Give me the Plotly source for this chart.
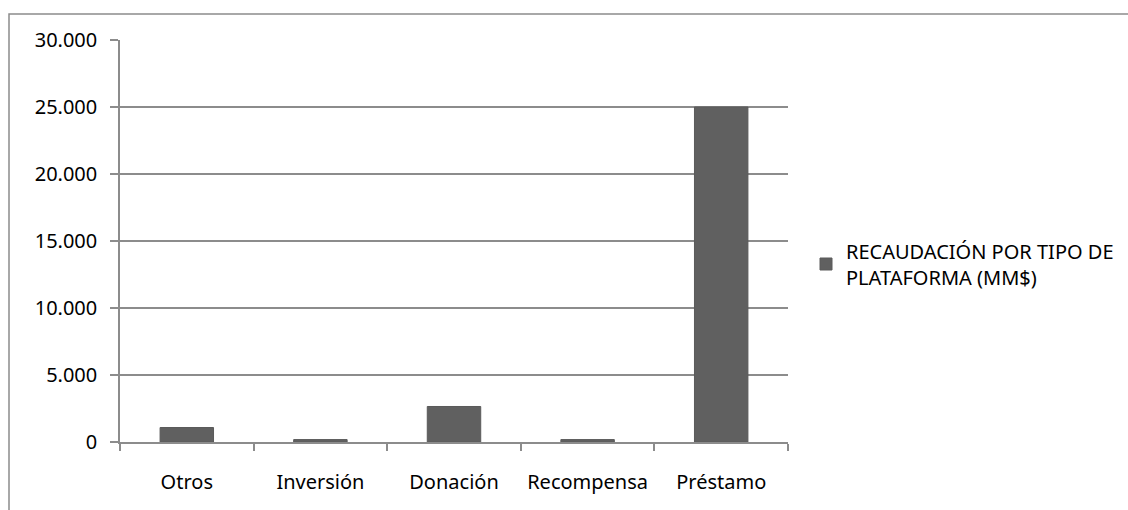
import plotly.graph_objects as go

categories = ["Otros", "Inversión", "Donación", "Recompensa", "Préstamo"]
values = [1080, 180, 2650, 180, 25000]
series_name = "RECAUDACIÓN POR TIPO DE<br>PLATAFORMA (MM$)"
y_ticks = [0, 5000, 10000, 15000, 20000, 25000, 30000]

W, H = 1128, 510
ml, mr, mt, mb = 120, 340, 40, 68
pw, ph = W - ml - mr, H - mt - mb

fig = go.Figure()
fig.add_trace(go.Bar(
    x=categories, y=values, name=series_name,
    marker=dict(color="#606060", line=dict(color="#5a5a5a", width=1)),
    showlegend=True,
))

FONT = "Noto Sans, Open Sans, sans-serif"
font = dict(family=FONT, size=20, color="#000000")

fig.update_layout(
    width=W, height=H,
    margin=dict(l=ml, r=mr, t=mt, b=mb, autoexpand=False),
    paper_bgcolor="white", plot_bgcolor="white",
    separators=",.",
    font=font,
    bargap=0.6,
    showlegend=True,
    legend=dict(
        x=(806 - ml) / pw, y=(442 - 264) / ph, xanchor="left", yanchor="middle",
        font=dict(family=FONT, size=20, color="#000000"),
        itemwidth=30, bgcolor="rgba(0,0,0,0)",
    ),
    xaxis=dict(
        type="category", tickson="boundaries",
        showline=True, linecolor="#8c8c8c", linewidth=1.5,
        ticks="outside", ticklen=7, tickcolor="#8c8c8c", tickwidth=1.5,
        showgrid=False, ticklabelstandoff=21,
    ),
    yaxis=dict(
        range=[0, 30000], tickvals=y_ticks, tickformat=",d",
        showline=True, linecolor="#8c8c8c", linewidth=1.5,
        ticks="outside", ticklen=8, tickcolor="#8c8c8c", tickwidth=1.5,
        showgrid=True, gridcolor="#8c8c8c", gridwidth=1.5,
        zeroline=False, ticklabelstandoff=9,
    ),
)

fig.add_shape(
    type="rect", xref="paper", yref="paper",
    x0=(9 - ml) / pw, x1=(W + 20 - ml) / pw,
    y0=(442 - (H + 20)) / ph, y1=(442 - 14) / ph,
    line=dict(color="#8c8c8c", width=1.5), fillcolor="rgba(0,0,0,0)", layer="below",
)

fig.write_html("out.html")
